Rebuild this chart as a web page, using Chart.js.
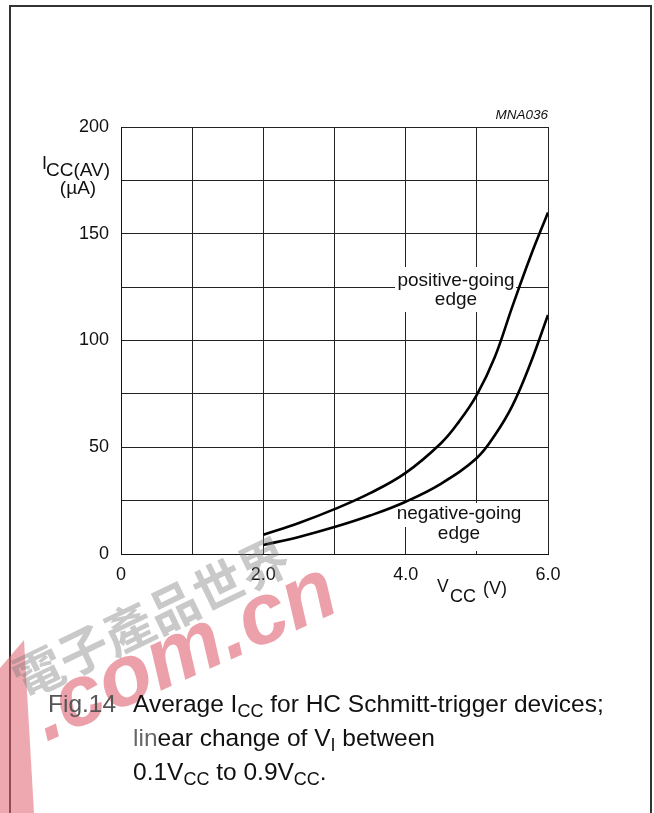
<!DOCTYPE html>
<html>
<head>
<meta charset="utf-8">
<script src="https://cdn.jsdelivr.net/npm/chart.js@4.4.1/dist/chart.umd.min.js"></script>
<style>
  html, body { margin: 0; padding: 0; background: #fff; }
  #wrap { position: relative; width: 654px; height: 813px; overflow: hidden; }
  canvas { position: absolute; left: 0; top: 0; }
  .cap { position: absolute; font-family: "Liberation Sans", Arial, sans-serif; font-size: 24.5px; color: #111; white-space: nowrap; line-height: 28px; }
  .cap sub { font-size: 18px; vertical-align: -5px; line-height: 0; }
</style>
</head>
<body>
<div id="wrap">
  <canvas id="c" width="654" height="813"></canvas>
  <div class="cap" style="left:48px; top:690px; color:#555;">Fig.14</div>
  <div class="cap" style="left:133px; top:690px;">Average I<sub>CC</sub> for HC Schmitt-trigger devices;</div>
  <div class="cap" style="left:133px; top:724px;"><span style="color:#666">lin</span>ear change of V<sub>I</sub> between</div>
  <div class="cap" style="left:133px; top:758px;">0.1V<sub>CC</sub> to 0.9V<sub>CC</sub>.</div>
</div>
<script>
// ---- data ----
const vccPositive = [2.0, 2.5, 3.0, 3.5, 4.0, 4.5, 4.75, 5.0, 5.25, 5.5, 5.75, 6.0];
const iccPositive = [9, 14.5, 21, 28.5, 38, 52, 62, 74.5, 92, 116, 139, 160];
const vccNegative = [2.0, 2.5, 3.0, 3.5, 4.0, 4.5, 5.0, 5.25, 5.5, 5.75, 6.0];
const iccNegative = [4.2, 8, 12.6, 18, 24.5, 33, 45, 55.5, 69.5, 89, 112];
const xTickLabels = ['0', '', '2.0', '', '4.0', '', '6.0'];
const yTickLabels = ['0', '', '50', '', '100', '', '150', '', '200'];
const seriesNames = ['positive-going edge', 'negative-going edge'];

const FONT = '"Liberation Sans", Arial, sans-serif';

function toPoints(xs, ys) { return xs.map((x, i) => ({ x: x, y: ys[i] })); }

const annot = {
  id: 'annot',
  beforeDraw(chart) {
    const ctx = chart.ctx;
    ctx.save();
    ctx.strokeStyle = '#333';
    ctx.lineWidth = 2;
    ctx.beginPath();
    ctx.moveTo(10, 900); ctx.lineTo(10, 6); ctx.lineTo(651, 6); ctx.lineTo(651, 900);
    ctx.stroke();
    ctx.restore();
  },
  beforeDatasetsDraw(chart) {
    const ctx = chart.ctx;
    ctx.save();
    ctx.fillStyle = '#fff';
    ctx.fillRect(395, 267, 121, 45);
    ctx.fillRect(397, 503, 128, 24);
    ctx.fillRect(428, 527, 62, 24);
    ctx.fillStyle = '#111';
    ctx.font = '19px ' + FONT;
    ctx.textAlign = 'center';
    ctx.textBaseline = 'alphabetic';
    ctx.fillText('positive-going', 456, 286);
    ctx.fillText('edge', 456, 305);
    ctx.fillText('negative-going', 459, 519);
    ctx.fillText('edge', 459, 539);
    ctx.restore();
  },
  afterDraw(chart) {
    const ctx = chart.ctx;
    ctx.save();
    ctx.fillStyle = '#111';
    ctx.font = 'italic 13.5px ' + FONT;
    ctx.textAlign = 'right';
    ctx.fillText('MNA036', 548, 119);
    // y title
    ctx.textAlign = 'left';
    ctx.font = '18px ' + FONT;
    ctx.fillText('I', 42, 169);
    ctx.font = '19px ' + FONT;
    ctx.fillText('CC(AV)', 46, 176);
    ctx.textAlign = 'center';
    ctx.fillText('(\u00b5A)', 78, 194);
    // x title
    ctx.textAlign = 'left';
    ctx.font = '17.5px ' + FONT;
    ctx.fillText('V', 437, 592);
    ctx.font = '18px ' + FONT;
    ctx.fillText('CC', 450, 602);
    ctx.fillText('(V)', 483, 594);
    // watermark: red stripe
    ctx.globalAlpha = 0.55;
    ctx.fillStyle = '#e0606e';
    ctx.beginPath();
    ctx.moveTo(0, 668); ctx.lineTo(24, 640); ctx.lineTo(34, 813); ctx.lineTo(0, 813);
    ctx.fill();
    ctx.restore();
    // watermark: grey characters
    ctx.save();
    ctx.globalAlpha = 0.4;
    ctx.fillStyle = '#777';
    ctx.translate(24, 700);
    ctx.rotate(-0.45);
    ctx.font = 'bold 50px "Noto Sans CJK TC"';
    ctx.fillText('電子產品世界', 0, 0);
    ctx.restore();
    // watermark: pink domain
    ctx.save();
    ctx.translate(46, 742);
    ctx.rotate(-0.42);
    ctx.font = 'bold italic 86px ' + FONT;
    ctx.fillStyle = '#e47784';
    ctx.globalAlpha = 0.7;
    ctx.fillText('.com.cn', 0, 0);
    ctx.restore();
  }
};

new Chart(document.getElementById('c'), {
  type: 'line',
  data: {
    datasets: [
      { label: seriesNames[0], data: toPoints(vccPositive, iccPositive) },
      { label: seriesNames[1], data: toPoints(vccNegative, iccNegative) }
    ]
  },
  options: {
    responsive: false,
    animation: false,
    events: [],
    layout: { padding: { top: 127, right: 106, left: 0, bottom: 0 } },
    elements: {
      line: { borderColor: '#000', borderWidth: 2.6, tension: 0.4, fill: false },
      point: { radius: 0 }
    },
    plugins: { legend: { display: false }, tooltip: { enabled: false } },
    scales: {
      x: {
        type: 'linear', min: 0, max: 6,
        afterFit(s) { s.height = 259; },
        afterBuildTicks(s) { s.ticks = xTickLabels.map((_, i) => ({ value: i })); },
        ticks: {
          autoSkip: false, maxRotation: 0, padding: 10,
          color: '#111', font: { family: FONT, size: 18 },
          callback: (v, i) => xTickLabels[i]
        },
        grid: { color: '#222', lineWidth: 1, drawTicks: false },
        border: { color: '#111', width: 1 }
      },
      y: {
        min: 0, max: 200,
        afterFit(s) { s.width = 121; },
        afterBuildTicks(s) { s.ticks = yTickLabels.map((_, i) => ({ value: i * 25 })); },
        ticks: {
          autoSkip: false, padding: 12,
          color: '#111', font: { family: FONT, size: 18 },
          callback: (v, i) => yTickLabels[i]
        },
        grid: { color: '#222', lineWidth: 1, drawTicks: false },
        border: { color: '#111', width: 1 }
      }
    }
  },
  plugins: [annot]
});
</script>
</body>
</html>
